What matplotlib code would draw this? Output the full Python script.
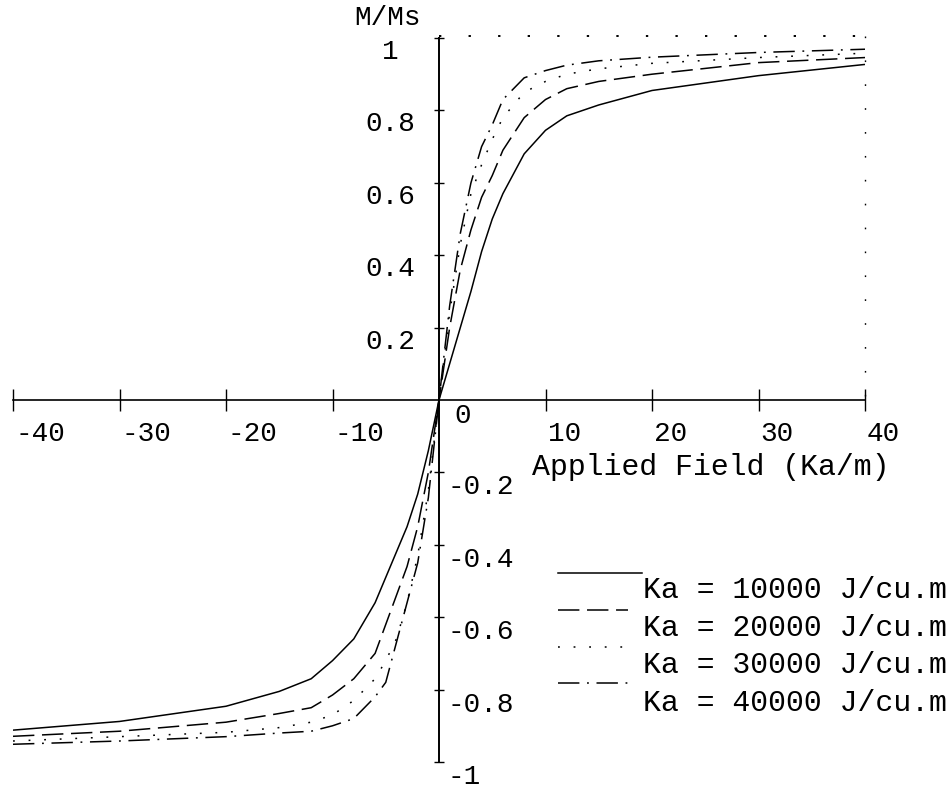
import matplotlib
matplotlib.use("Agg")
import matplotlib.pyplot as plt
from matplotlib.lines import Line2D

plt.rcParams["font.family"] = ["Liberation Mono", "DejaVu Sans Mono"]

# ---------------- data ----------------
field = [-40, -30, -20, -15, -12, -10, -8, -6, -5, -4, -3, -2, -1, 0,
         1, 2, 3, 4, 5, 6, 8, 10, 12, 15, 20, 30, 40]
m_ka10 = [-0.912, -0.888, -0.846, -0.805, -0.770, -0.720, -0.660, -0.560, -0.490, -0.420,
          -0.350, -0.260, -0.140, 0.0, 0.100, 0.200, 0.300, 0.410, 0.500, 0.570,
          0.680, 0.745, 0.785, 0.815, 0.855, 0.896, 0.927]
m_ka20 = [-0.929, -0.915, -0.890, -0.866, -0.850, -0.815, -0.770, -0.700, -0.620, -0.540,
          -0.460, -0.350, -0.200, 0.0, 0.200, 0.360, 0.470, 0.560, 0.620, 0.690,
          0.780, 0.830, 0.860, 0.880, 0.900, 0.932, 0.946]
m_ka30 = [-0.942, -0.930, -0.918, -0.905, -0.890, -0.870, -0.830, -0.770, -0.720, -0.660,
          -0.560, -0.430, -0.250, 0.0, 0.240, 0.430, 0.570, 0.650, 0.720, 0.780,
          0.850, 0.880, 0.900, 0.915, 0.930, 0.946, 0.958]
m_ka40 = [-0.951, -0.942, -0.930, -0.920, -0.915, -0.900, -0.880, -0.820, -0.780, -0.670,
          -0.560, -0.450, -0.270, 0.0, 0.260, 0.460, 0.600, 0.700, 0.760, 0.830,
          0.890, 0.910, 0.925, 0.937, 0.947, 0.960, 0.969]
series = [m_ka10, m_ka20, m_ka30, m_ka40]
series_labels = ["Ka = 10000 J/cu.m", "Ka = 20000 J/cu.m",
                 "Ka = 30000 J/cu.m", "Ka = 40000 J/cu.m"]

x_ticks = [-40, -30, -20, -10, 10, 20, 30, 40]
x_tick_labels = ["-40", "-30", "-20", "-10", "10", "20", "30", "40"]
y_ticks_pos = [0.2, 0.4, 0.6, 0.8, 1.0]
y_tick_labels_pos = ["0.2", "0.4", "0.6", "0.8", "1"]
y_ticks_neg = [-0.2, -0.4, -0.6, -0.8, -1.0]
y_tick_labels_neg = ["-0.2", "-0.4", "-0.6", "-0.8", "-1"]

# ---------------- styles ----------------
dash_styles = [
    "-",
    (0, (14, 5)),
    (0, (1.2, 9)),
    (0, (14, 5, 1.2, 5)),
]
FS_TICK = 20
FS_TEXT = 21.5
W, H = 951, 790

fig = plt.figure(figsize=(W / 100, H / 100), dpi=100)
ax = fig.add_axes([13 / W, (H - 762) / H, 852 / W, 724 / H])
ax.set_xlim(-40, 40)
ax.set_ylim(-1.0, 1.0)

for vals, ls in zip(series, dash_styles):
    ax.plot(field, vals, color="black", lw=1.1, linestyle=ls, solid_capstyle="butt")

# axes through origin
for side in ["top", "right"]:
    ax.spines[side].set_visible(False)
ax.spines["left"].set_position(("data", 0))
ax.spines["bottom"].set_position(("data", 0))
ax.spines["left"].set_linewidth(1.4)
ax.spines["bottom"].set_linewidth(1.2)

ax.set_xticks(x_ticks)
ax.set_yticks(y_ticks_neg + y_ticks_pos)
ax.set_xticklabels([])
ax.set_yticklabels([])
ax.tick_params(axis="x", direction="inout", length=16, width=1.0)
ax.tick_params(axis="y", direction="inout", length=7, width=1.0)

# dotted frame (top and right)
ax.plot([0, 40], [1.005, 1.005], color="black", lw=1.4, linestyle=(0, (1.2, 14)),
        clip_on=False)
ax.plot([40, 40], [1.005, 0.0], color="black", lw=1.0, linestyle=(0, (1.2, 16)),
        clip_on=False)

# tick labels
for v, t in zip(x_ticks, x_tick_labels):
    ax.annotate(t, xy=(v, 0), xytext=(2, -34), textcoords="offset pixels",
                ha="left", va="center", fontsize=FS_TICK)
ax.annotate("0", xy=(0, 0), xytext=(24, -16), textcoords="offset pixels",
            ha="center", va="center", fontsize=FS_TICK)
for v, t in zip(y_ticks_pos, y_tick_labels_pos):
    ax.annotate(t, xy=(0, v), xytext=(-49, -14), textcoords="offset pixels",
                ha="center", va="center", fontsize=FS_TICK)
for v, t in zip(y_ticks_neg, y_tick_labels_neg):
    ax.annotate(t, xy=(0, v), xytext=(9, -15), textcoords="offset pixels",
                ha="left", va="center", fontsize=FS_TICK)

# axis titles
ax.annotate("M/Ms", xy=(0, 1.0), xytext=(-51, 20), textcoords="offset pixels",
            ha="center", va="center", fontsize=FS_TICK)
fig.text(711 / W, (H - 467) / H, "Applied Field (Ka/m)", ha="center", va="center",
         fontsize=FS_TEXT)

# legend (manual, Mathematica style)
handle_y = [573, 610, 647, 683]
text_y = [590, 628, 665, 703]
handle_x1 = [642, 628, 628, 628]
for lab, ls, hy, ty, hx1 in zip(series_labels, dash_styles, handle_y, text_y, handle_x1):
    fig.add_artist(Line2D([558 / W, hx1 / W], [(H - hy) / H, (H - hy) / H],
                          transform=fig.transFigure, color="black", lw=1.1,
                          linestyle=ls))
    fig.text(643 / W, (H - ty) / H, lab, ha="left", va="center", fontsize=FS_TEXT)

fig.savefig("out.png", dpi=100)
